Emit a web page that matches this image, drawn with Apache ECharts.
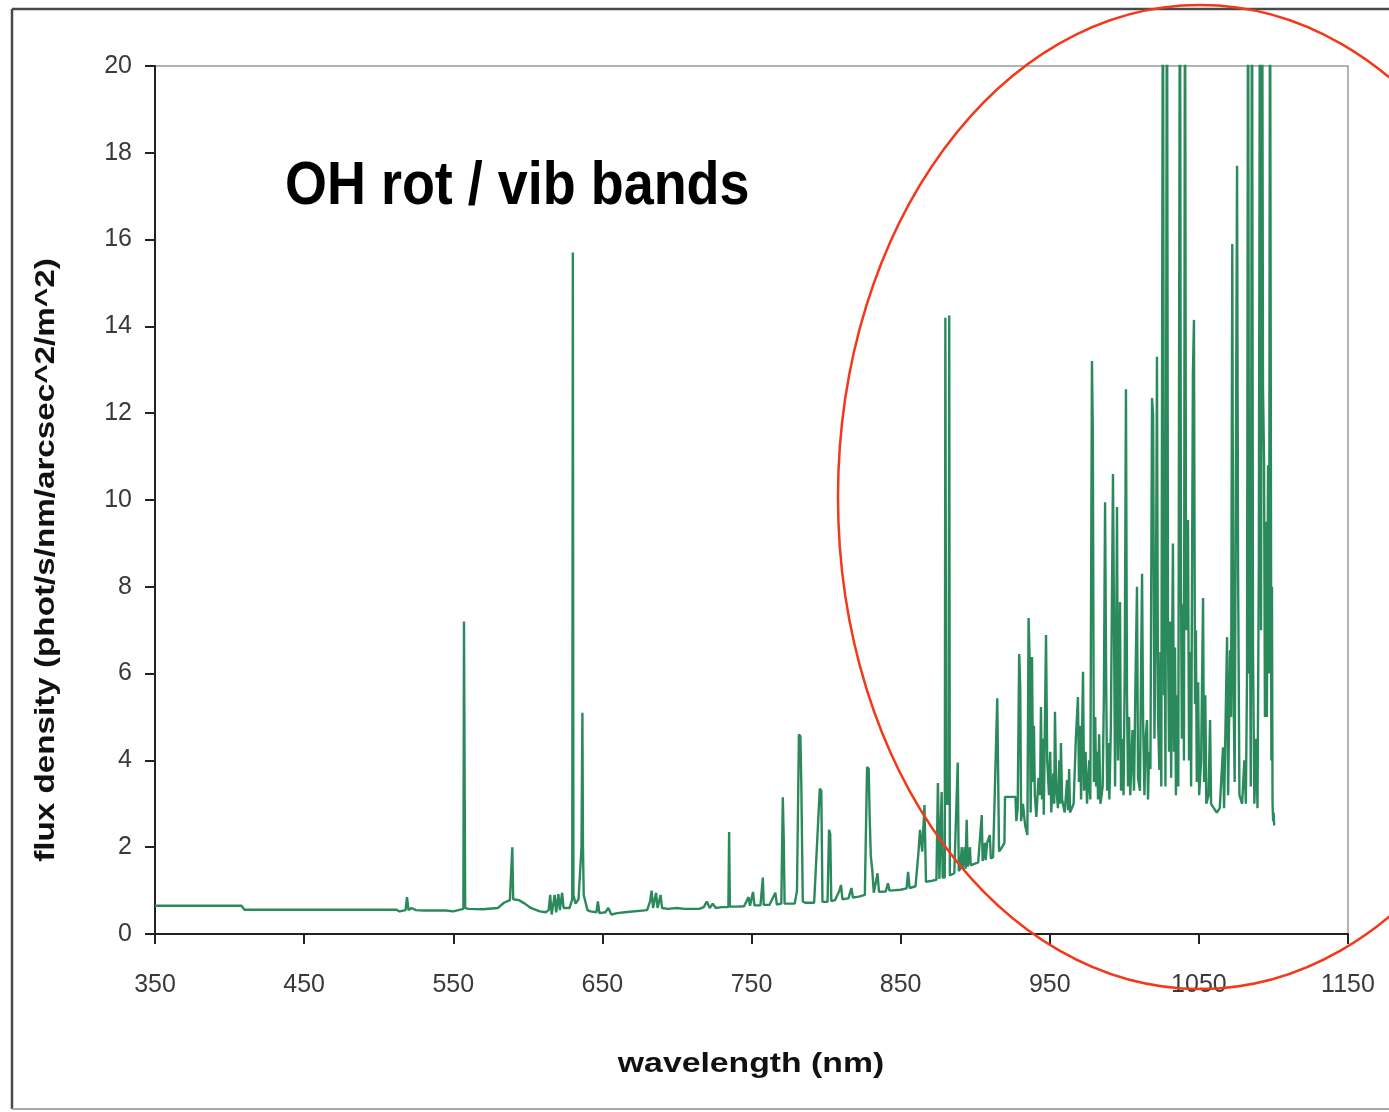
<!DOCTYPE html>
<html>
<head>
<meta charset="utf-8">
<script src="https://cdn.jsdelivr.net/npm/echarts@6/dist/echarts.min.js"></script>
<style>
  html, body { margin: 0; padding: 0; background: #fff; }
  #chart { width: 1389px; height: 1112px; }
</style>
</head>
<body>
<div id="chart"></div>
<script>
// wavelength (nm) / flux density pairs
const blueSide = [
  [350, 0.65], [408, 0.65], [410, 0.56], [512, 0.56], [514, 0.52], [518, 0.55], [519, 0.85], [520, 0.55],
  [522, 0.6], [525, 0.55], [530, 0.54], [545, 0.54], [550, 0.52], [556.8, 0.58], [557.2, 7.2], [557.6, 7.2],
  [558, 0.6], [560, 0.58], [570, 0.57], [580, 0.6], [584, 0.72], [588, 0.78], [589.6, 2.0], [590.2, 0.8],
  [594, 0.78], [598, 0.7], [602, 0.6], [608, 0.52], [612, 0.5], [614, 0.55], [615, 0.9], [616, 0.45],
  [618, 0.9], [619, 0.5], [620.5, 0.92], [621.5, 0.55], [623, 0.95], [624, 0.6], [628, 0.6], [629.8, 0.8],
  [630.2, 15.7], [630.6, 0.9], [632, 0.7], [634, 0.8], [636, 2.0], [636.6, 5.1], [637, 2.0], [637.5, 0.9],
  [640, 0.55], [642, 0.52], [646, 0.5], [647, 0.75], [648, 0.48], [652, 0.5], [654, 0.6], [656, 0.45],
  [660, 0.48], [665, 0.5], [680, 0.55], [682, 0.75], [683, 1.0], [684, 0.6], [686, 0.95], [687, 0.6],
  [689, 0.9], [690, 0.6], [694, 0.58], [700, 0.6]
];

const redSide = [
  [705, 0.58], [715, 0.58], [718, 0.62], [720, 0.75], [722, 0.6], [724, 0.7], [726, 0.6], [730, 0.62],
  [734.5, 0.62], [735, 2.35], [735.5, 0.63], [740, 0.63], [745, 0.64], [748, 0.85], [749, 0.65], [751, 0.97],
  [752, 0.66], [756, 0.66], [757.6, 1.3], [758.2, 0.67], [762, 0.67], [766, 0.95], [767, 0.68], [770, 0.7],
  [771, 3.15], [771.6, 2.2], [772.2, 0.7], [776, 0.7], [779, 0.7], [780.5, 1.0], [781.8, 4.6], [782.8, 4.55],
  [783.4, 3.45], [784.4, 0.75], [786, 0.72], [790, 0.72], [792, 0.72], [795.8, 3.35], [796.8, 3.3], [797.6, 0.74],
  [801, 0.74], [802, 2.4], [802.8, 2.3], [803.5, 0.76], [806, 0.78], [809, 1.0], [810, 1.13], [811, 0.8],
  [815, 0.82], [817, 1.06], [818, 0.84], [822, 0.86], [826, 0.9], [827.5, 3.85], [828.6, 3.8], [829.2, 2.74],
  [830, 1.8], [831, 1.47], [832, 0.95], [834.5, 1.4], [835.5, 0.97], [840, 0.98], [841.5, 1.17], [842.5, 1.0],
  [850, 1.02], [854, 1.05], [855, 1.43], [856, 1.06], [860, 1.1], [862, 1.9], [863, 2.4], [864.5, 1.9],
  [866, 2.97], [867, 1.2], [870, 1.22], [874, 1.25], [875, 3.48], [876, 1.27], [877.5, 3.27], [878.2, 1.3],
  [879.6, 1.3], [880, 14.2], [880.6, 3.0], [882.2, 3.0], [882.6, 14.25], [883, 1.35], [886, 1.4], [888.3, 3.95],
  [889, 1.45], [890, 1.5], [891, 2.0], [891.5, 1.5], [893, 2.0], [893.5, 1.5], [894.3, 2.63], [895, 1.55],
  [896.5, 2.0], [897, 1.58], [898, 1.6], [902, 1.65], [904.4, 2.74], [905, 1.68], [906.5, 2.1], [907, 1.7],
  [908, 2.1], [909.8, 2.28], [910.5, 1.74], [912, 1.77], [914.8, 5.43], [915.4, 3.66], [916, 1.9], [918, 2.0],
  [919.6, 2.1], [920, 3.16], [927, 3.16], [927.6, 2.6]
];

const ohBands = [
  [928.5, 2.9], [929.5, 6.45], [930.2, 5.7], [930.8, 2.6], [932, 3.0], [933.5, 2.5], [935, 2.28], [935.8, 7.28],
  [936.5, 6.36], [937.2, 2.8], [938.1, 6.38], [938.8, 3.5], [939.4, 4.8], [940, 3.2], [941, 2.7], [942.5, 3.6],
  [943.5, 3.2], [944.1, 5.23], [944.8, 3.1], [945.5, 4.5], [946, 2.75], [947.5, 6.89], [948.3, 4.0], [949.5, 3.2],
  [950.3, 4.2], [951, 2.8], [952.4, 3.7], [953, 3.0], [953.5, 5.12], [954.3, 3.4], [955.5, 2.9], [956.4, 4.0],
  [957, 3.0], [957.5, 4.4], [958.3, 3.1], [960, 2.8], [961.6, 3.55], [962.3, 2.85], [963, 3.8], [963.6, 2.8],
  [966, 3.0], [967.5, 4.5], [968.9, 5.46], [969.6, 3.5], [970.3, 4.8], [971, 3.1], [972.3, 6.04], [973, 3.3],
  [974, 4.2], [975, 3.0], [976.5, 4.0], [977.2, 3.1], [978.3, 13.2], [978.9, 11.5], [979.6, 3.5], [980.5, 5.0],
  [981.1, 3.4], [981.7, 4.2], [982.4, 3.1], [983.1, 4.6], [984, 3.0], [985.5, 3.4], [986.3, 5.5], [987.1, 9.95],
  [987.8, 6.0], [988.5, 3.3], [989.2, 4.4], [990, 3.1], [991, 4.8], [992.4, 10.6], [993, 7.7], [993.8, 3.4],
  [994.4, 5.6], [995.1, 9.84], [995.8, 4.0], [996.4, 5.2], [997.1, 7.65], [997.8, 3.3], [998.6, 4.5], [999.5, 3.2],
  [1000.3, 6.2], [1001.1, 12.55], [1001.8, 5.46], [1002.5, 3.4], [1003.2, 5.0], [1004, 3.2], [1005.5, 4.7], [1006.5, 3.3],
  [1007.4, 5.6], [1008.5, 8.0], [1009.2, 3.6], [1010.5, 3.3], [1011.2, 6.0], [1011.9, 8.3], [1012.6, 4.93], [1013.5, 3.2],
  [1014.3, 4.5], [1015.2, 4.93], [1015.9, 3.1], [1016.6, 4.2], [1017.5, 3.8], [1018.6, 12.35], [1019.3, 11.95], [1020.2, 4.5],
  [1021.2, 7.6], [1021.9, 13.3], [1022.6, 5.0], [1023.5, 3.78], [1024.2, 6.5], [1024.8, 3.4], [1025.9, 24], [1026.6, 5.5],
  [1027.1, 7.6], [1027.6, 3.4], [1028.6, 24], [1029.3, 6.8], [1030, 4.2], [1030.8, 7.2], [1031.4, 3.6], [1032.6, 9.0],
  [1033.3, 4.2], [1034, 6.6], [1034.6, 3.2], [1035.5, 5.5], [1036.2, 3.4], [1037.3, 24], [1038, 8.0], [1038.6, 4.5],
  [1039.4, 7.6], [1040, 4.0], [1040.7, 24], [1041.4, 7.0], [1042.7, 9.54], [1043.4, 4.0], [1044.2, 6.5], [1044.8, 3.4],
  [1046, 12.9], [1046.7, 14.15], [1047.4, 5.3], [1048, 7.0], [1048.6, 3.5], [1049.5, 5.8], [1050.2, 3.2], [1051.5, 4.0],
  [1052.8, 7.74], [1053.5, 3.5], [1054.3, 5.5], [1055, 3.0], [1056.5, 3.2], [1057.5, 4.93], [1058.2, 3.0], [1060, 2.9],
  [1062, 2.8], [1064, 2.9], [1066.2, 4.3], [1066.9, 2.9], [1068.9, 6.84], [1069.6, 3.2], [1070.9, 6.54], [1071.6, 5.0],
  [1072.4, 15.9], [1073.1, 6.0], [1074, 3.5], [1075.6, 17.7], [1076.3, 8.3], [1077.2, 3.2], [1079, 3.0], [1080.5, 4.0],
  [1081.5, 3.0], [1082.3, 6.0], [1083, 24], [1083.7, 6.0], [1084.3, 7.5], [1084.8, 3.4], [1085.6, 24], [1086.3, 6.5],
  [1087.2, 3.0], [1088.5, 4.5], [1089.3, 2.9], [1090.2, 8.5], [1091, 24], [1091.7, 7.0], [1092.4, 24], [1093, 12.6],
  [1093.7, 10.9], [1094.3, 5.0], [1095, 9.5], [1095.6, 5.0], [1096.4, 10.8], [1097.1, 6.0], [1097.7, 24], [1098.3, 10.8],
  [1098.6, 4.0], [1099, 8.0], [1099.4, 3.0], [1099.8, 2.6], [1100.1, 2.8], [1100.5, 2.5]
];

const xTicks = [350, 450, 550, 650, 750, 850, 950, 1050, 1150];

const chart = echarts.init(document.getElementById('chart'), null, { renderer: 'canvas' });

const tickFont = { fontFamily: '"Liberation Sans", Arial, sans-serif', fontSize: 25, color: '#3a3a3a' };

chart.setOption({
  animation: false,
  backgroundColor: '#fff',
  grid: {
    left: 155,
    right: 41,
    top: 66,
    bottom: 178,
    show: true,
    borderColor: '#9a9a9a',
    borderWidth: 1.5
  },
  xAxis: {
    type: 'value',
    min: 350,
    max: 1150,
    interval: 100,
    axisLine: { show: true, onZero: false, lineStyle: { color: '#222', width: 2 } },
    axisTick: { show: true, inside: false, length: 10, customValues: xTicks, lineStyle: { color: '#222', width: 2 } },
    axisLabel: { ...tickFont, margin: 39, customValues: xTicks, formatter: v => String(v) },
    splitLine: { show: false }
  },
  yAxis: {
    type: 'value',
    min: 0,
    max: 20,
    interval: 2,
    axisLine: { show: true, lineStyle: { color: '#222', width: 2 } },
    axisTick: { show: true, inside: false, length: 10, lineStyle: { color: '#222', width: 2 } },
    axisLabel: { ...tickFont, margin: 23 },
    splitLine: { show: false }
  },
  series: [{
    type: 'line',
    data: blueSide.concat(redSide, ohBands),
    showSymbol: false,
    clip: true,
    lineStyle: { color: '#2b8a5c', width: 2.4 }
  }],
  graphic: [
    {
      type: 'line',
      shape: { x1: 12, y1: 9, x2: 1389, y2: 9 },
      style: { stroke: '#4a4a4a', lineWidth: 2.5 }
    },
    {
      type: 'line',
      shape: { x1: 12, y1: 9, x2: 12, y2: 1109 },
      style: { stroke: '#4a4a4a', lineWidth: 2.5 }
    },
    {
      type: 'line',
      shape: { x1: 12, y1: 1109, x2: 1389, y2: 1109 },
      style: { stroke: '#a8a8a8', lineWidth: 2 }
    },
    {
      type: 'text',
      x: 285,
      y: 187,
      scaleX: 0.87,
      style: {
        text: 'OH rot / vib bands',
        font: 'bold 62px "Liberation Sans", Arial, sans-serif',
        fill: '#000',
        textAlign: 'left',
        textVerticalAlign: 'middle'
      }
    },
    {
      type: 'text',
      x: 47,
      y: 560,
      rotation: Math.PI / 2,
      scaleX: 1.23,
      style: {
        text: 'flux density (phot/s/nm/arcsec^2/m^2)',
        font: 'bold 27px "Liberation Sans", Arial, sans-serif',
        fill: '#111',
        textAlign: 'center',
        textVerticalAlign: 'middle'
      }
    },
    {
      type: 'text',
      x: 751,
      y: 1065,
      scaleX: 1.25,
      style: {
        text: 'wavelength (nm)',
        font: 'bold 27px "Liberation Sans", Arial, sans-serif',
        fill: '#111',
        textAlign: 'center',
        textVerticalAlign: 'middle'
      }
    },
    {
      type: 'ellipse',
      z: 100,
      shape: { cx: 1200, cy: 497, rx: 362, ry: 492 },
      style: { fill: null, stroke: '#f2391b', lineWidth: 2.5 }
    }
  ]
});
</script>
</body>
</html>
